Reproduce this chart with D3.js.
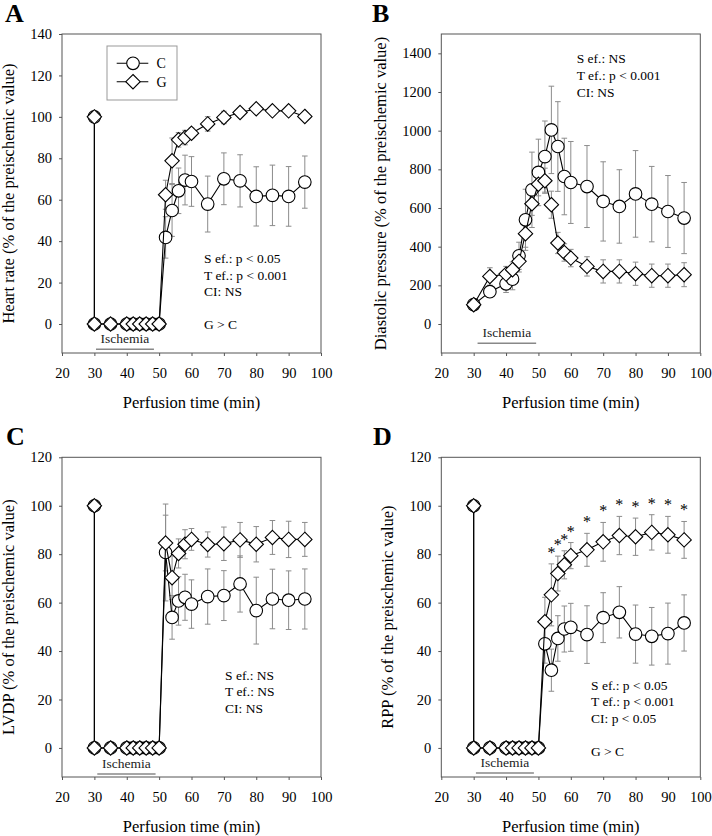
<!DOCTYPE html>
<html><head><meta charset="utf-8">
<script src="https://cdn.jsdelivr.net/npm/d3@7"></script>
<style>
html,body{margin:0;padding:0;background:#fff;}
svg, svg text{font-family:"Times New Roman","Liberation Serif","DejaVu Serif",serif;}
</style></head>
<body><svg id="chart" width="712" height="836"></svg>
<script>
// ---------- data ----------
const timeAD = [30,30,35,40,42,44,46,48,50,52,54,56,58,60,65,70,75,80,85,90,95];
const timeB  = [30,35,40,42,44,46,48,50,52,54,56,58,60,65,70,75,80,85,90,95];
const xTicks = [20,30,40,50,60,70,80,90,100];

const hrC    = [100,0,0,0,0,0,0,0,0,41.8,54.8,64.3,69.5,68.8,57.9,70.1,69.1,61.6,62.1,61.6,68.5];
const hrCerr = [0,0,0,0,0,0,0,0,0,10,12.5,11,12,12,13.5,12.5,12.6,14.3,14.6,14.4,12.6];
const hrG    = [100,0,0,0,0,0,0,0,0,62.4,78.8,88.9,90,92.1,96.6,99.7,102.1,103.9,102.9,102.9,100.2];
const hrGerr = [0,0,0,0,0,0,0,0,0,7,11,3.5,3.5,2.5,3.5,3,2,2,2,2,2];

const dpC    = [100,167,208,232,353,539,694,784,866,1004,918,763,732,711,634,608,673,620,582,548];
const dpCerr = [0,25,45,55,70,158,195,172,184,226,232,198,212,212,205,190,224,195,186,184];
const dpG    = [100,246,258,281,324,467,622,723,741,617,419,370,341,298,272,272,260,250,250,255];
const dpGerr = [0,45,40,40,55,70,60,60,65,70,55,45,45,50,60,60,60,60,60,62];

const lvC    = [100,0,0,0,0,0,0,0,0,80.7,53.9,60.7,62.2,59.4,62.5,62.9,67.7,56.7,61.5,61.0,61.5];
const lvCerr = [0,0,0,0,0,0,0,0,0,20,9,10,9.5,10,11.4,10.3,11.6,13.8,12.3,12.1,12.4];
const lvG    = [100,0,0,0,0,0,0,0,0,84.6,70.3,80.3,84.1,86.1,84.0,84.3,85.9,84.1,86.9,86.1,86.1];
const lvGerr = [0,0,0,0,0,0,0,0,0,11.5,9,6,6,4.5,5.2,6.9,7.2,7.3,7,7.5,7];

const rpC    = [100,0,0,0,0,0,0,0,0,43.0,32.1,45.2,49.1,49.8,46.8,53.8,56.0,47.0,46.1,47.2,51.6];
const rpCerr = [0,0,0,0,0,0,0,0,0,8,8.7,9.4,9.5,9.9,11.9,10.3,10.6,12.0,11.9,12.6,11.6];
const rpG    = [100,0,0,0,0,0,0,0,0,52.1,63.2,72.0,75.6,79.4,81.8,85.1,87.7,87.2,89.0,88.0,85.9];
const rpGerr = [0,0,0,0,0,0,0,0,0,10.1,12.8,7.2,5.8,5.4,6.8,8,7.9,7.7,7.3,7.6,7.6];
const rpSig  = [0,0,0,0,0,0,0,0,0,0,1,1,1,1,1,1,1,1,1,1,1];

const seriesNames = ["C","G"];

// ---------- panels ----------
const panels = [
  {letter:"A", L:62, R:321, T:34, B:353, ydom:[-14,140], yticks:d3.range(0,141,20),
   ylabel:"Heart rate (% of the preischemic value)", ylx:13.5, lx:5, ly:22,
   t:timeAD, c:hrC, ce:hrCerr, g:hrG, ge:hrGerr,
   isch:[30.5,48.4], ischOff:3.7,
   notes:["S ef.: p < 0.05","T ef.: p < 0.001","CI: NS","","G > C"], nx:204, ny:263, legend:true},
  {letter:"B", L:441.3, R:700.3, T:34, B:353, ydom:[-150,1500], yticks:d3.range(0,1401,200),
   ylabel:"Diastolic pressure (% of the preischemic value)", ylx:386, lx:372, ly:22,
   t:timeB, c:dpC, ce:dpCerr, g:dpG, ge:dpGerr,
   isch:[31.2,49.3], ischOff:9.7,
   notes:["S ef.: NS","T ef.: p < 0.001","CI: NS"], nx:576.7, ny:63.3},
  {letter:"C", L:62, R:321, T:457.3, B:777, ydom:[-12,120], yticks:d3.range(0,121,20),
   ylabel:"LVDP (% of the preischemic value)", ylx:13.5, lx:6, ly:445,
   t:timeAD, c:lvC, ce:lvCerr, g:lvG, ge:lvGerr,
   isch:[30.9,48.9], ischOff:3,
   notes:["S ef.: NS","T ef.: NS","CI: NS"], nx:225, ny:679.7},
  {letter:"D", L:441.3, R:700.3, T:457.3, B:777, ydom:[-12,120], yticks:d3.range(0,121,20),
   ylabel:"RPP (% of the preischemic value)", ylx:392.5, lx:373, ly:445,
   t:timeAD, c:rpC, ce:rpCerr, g:rpG, ge:rpGerr, sig:rpSig,
   isch:[30.7,48.6], ischOff:4,
   notes:["S ef.: p < 0.05","T ef.: p < 0.001","CI: p < 0.05","","G > C"], nx:591, ny:689.7}
];

const FONT = "Times New Roman, Liberation Serif, DejaVu Serif, serif";
const svg = d3.select("#chart").attr("font-family",FONT);
const FRAME = "#555";
const ERR = "#8c8c8c";
const tickFont = 14.5;

function diamondPath(r){ return `M0,${-r}L${r},0L0,${r}L${-r},0Z`; }

function drawMarker(g, kind, x, y){
  if(kind==="C"){
    g.append("circle").attr("cx",x).attr("cy",y).attr("r",6.3)
      .attr("fill","#fff").attr("stroke","#000").attr("stroke-width",1.1);
  } else {
    g.append("path").attr("d",diamondPath(7.2)).attr("transform",`translate(${x},${y})`)
      .attr("fill","#fff").attr("stroke","#000").attr("stroke-width",1.1);
  }
}

panels.forEach(p=>{
  const x = d3.scaleLinear().domain([20,100]).range([p.L,p.R]);
  const y = d3.scaleLinear().domain(p.ydom).range([p.B,p.T]);
  const g = svg.append("g");

  // axes
  const xa = g.append("g").attr("transform",`translate(0,${p.B})`)
    .call(d3.axisBottom(x).tickValues(xTicks).tickSize(3).tickPadding(12).tickFormat(d3.format("d")));
  const ya = g.append("g").attr("transform",`translate(${p.L},0)`)
    .call(d3.axisLeft(y).tickValues(p.yticks).tickSize(3).tickPadding(7).tickFormat(d3.format("d")));
  [xa,ya].forEach(a=>{
    a.attr("font-family",FONT).attr("font-size",tickFont);
    a.select(".domain").remove();
    a.selectAll("line").attr("stroke",FRAME);
    a.selectAll("text").attr("fill","#000");
  });
  // frame
  g.append("rect").attr("x",p.L).attr("y",p.T).attr("width",p.R-p.L).attr("height",p.B-p.T)
    .attr("fill","none").attr("stroke",FRAME).attr("stroke-width",1);

  // titles
  g.append("text").attr("x",(p.L+p.R)/2).attr("y",p.B+55).attr("text-anchor","middle")
    .attr("font-size",16.5).text("Perfusion time (min)");
  g.append("text").attr("transform",`translate(${p.ylx},${(p.T+p.B)/2}) rotate(-90)`)
    .attr("text-anchor","middle").attr("font-size",16.5).text(p.ylabel);
  g.append("text").attr("x",p.lx).attr("y",p.ly).attr("font-size",26).attr("font-weight","bold").text(p.letter);

  // ischemia bar
  const iy = p.B - p.ischOff;
  g.append("line").attr("x1",x(p.isch[0])).attr("x2",x(p.isch[1])).attr("y1",iy).attr("y2",iy)
    .attr("stroke","#888").attr("stroke-width",1.5);
  g.append("text").attr("x",(x(p.isch[0])+x(p.isch[1]))/2).attr("y",iy-6).attr("text-anchor","middle")
    .attr("font-size",13.5).attr("fill","#222").text("Ischemia");

  // notes
  p.notes.forEach((s,i)=>{
    if(!s) return;
    g.append("text").attr("x",p.nx).attr("y",p.ny+i*16.6).attr("font-size",13.5).text(s);
  });

  const series = [
    {name:seriesNames[0], v:p.c, e:p.ce},
    {name:seriesNames[1], v:p.g, e:p.ge}
  ];
  // error bars
  const eg = g.append("g").attr("stroke",ERR).attr("stroke-width",1);
  series.forEach(s=>{
    s.v.forEach((v,i)=>{
      const e = s.e[i]; if(!e) return;
      const cx = x(p.t[i]);
      eg.append("line").attr("x1",cx).attr("x2",cx).attr("y1",y(v-e)).attr("y2",y(v+e));
      [v-e,v+e].forEach(w=>eg.append("line").attr("x1",cx-2.8).attr("x2",cx+2.8).attr("y1",y(w)).attr("y2",y(w)));
    });
  });
  // lines + markers
  const line = d3.line().x(d=>x(d[0])).y(d=>y(d[1]));
  series.forEach(s=>{
    const pts = s.v.map((v,i)=>[p.t[i],v]);
    g.append("path").attr("d",line(pts)).attr("fill","none").attr("stroke","#000").attr("stroke-width",1.1);
    const mg = g.append("g");
    pts.forEach(d=>drawMarker(mg,s.name,x(d[0]),y(d[1])));
  });

  // significance stars
  if(p.sig){
    p.sig.forEach((f,i)=>{
      if(!f) return;
      g.append("text").attr("x",x(p.t[i])).attr("y",y(p.g[i]+p.ge[i])-6)
        .attr("text-anchor","middle").attr("font-size",16).text("*");
    });
  }

  // legend
  if(p.legend){
    const lg = g.append("g");
    lg.append("rect").attr("x",107).attr("y",46).attr("width",70).attr("height",54)
      .attr("fill","#fff").attr("stroke","#999").attr("stroke-width",1);
    seriesNames.forEach((n,i)=>{
      const ly = 63.3 + i*18.4;
      lg.append("line").attr("x1",116.7).attr("x2",148.3).attr("y1",ly).attr("y2",ly)
        .attr("stroke","#000").attr("stroke-width",1.1);
      drawMarker(lg,n,133,ly);
      lg.append("text").attr("x",156.5).attr("y",ly+5).attr("font-size",14).text(n);
    });
  }
});
</script></body></html>
